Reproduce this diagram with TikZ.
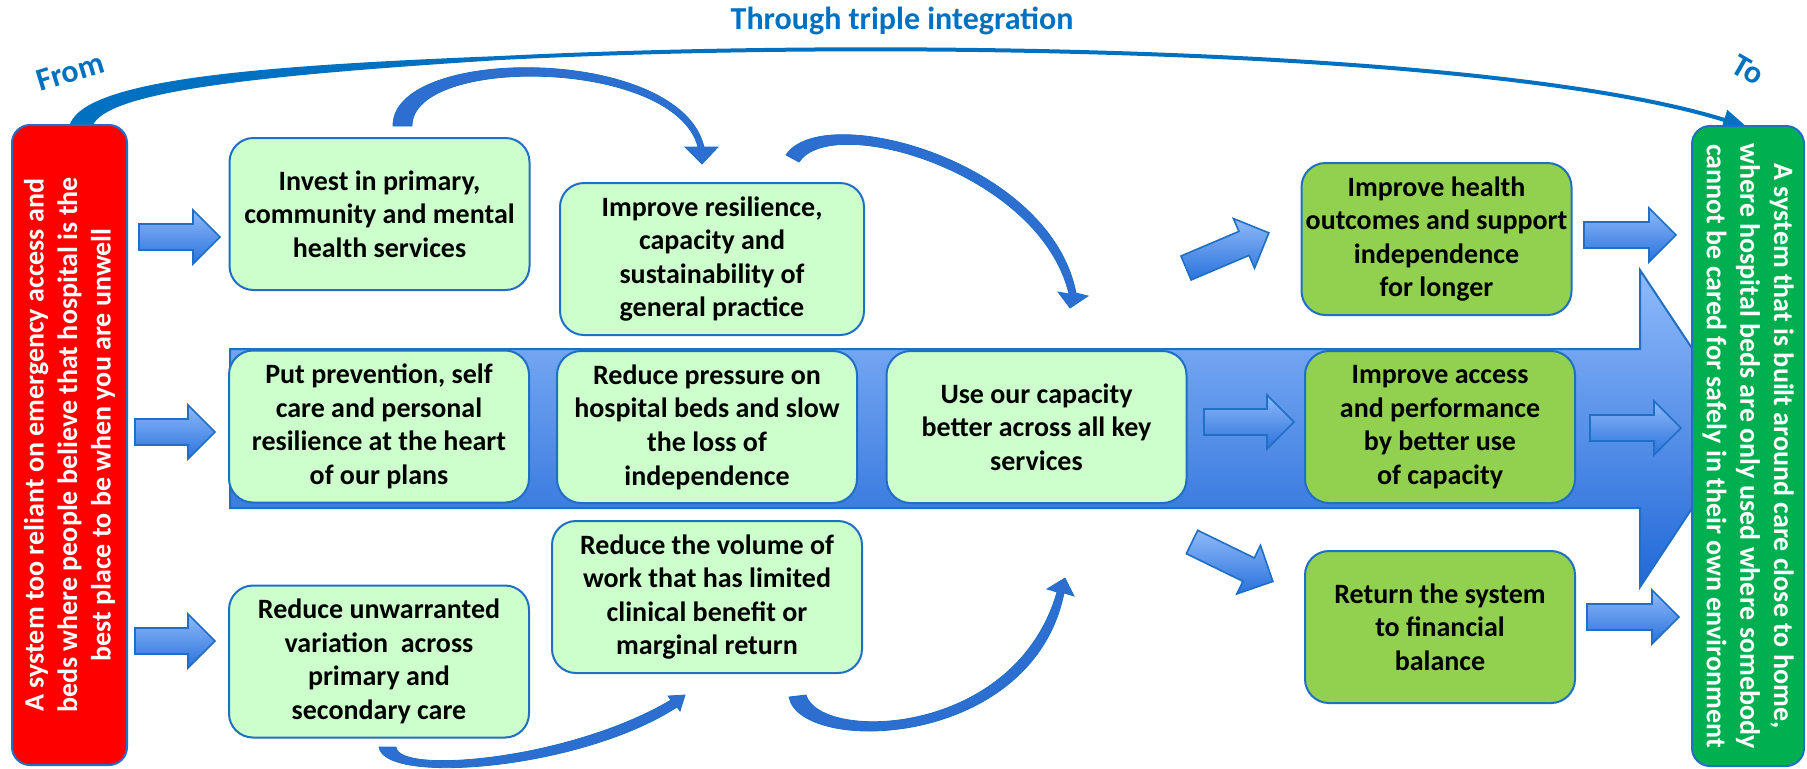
\documentclass[tikz,border=0pt]{standalone}
\usepackage{fontspec}
\setmainfont{Carlito}
\usetikzlibrary{arrows.meta}

\definecolor{edgeblue}{HTML}{1F6FC5}
\definecolor{boxgreen}{HTML}{CCFFCC}
\definecolor{goalgreen}{HTML}{92D050}
\definecolor{sidered}{HTML}{FF0000}
\definecolor{sidegreen}{HTML}{00B050}
\definecolor{headblue}{HTML}{0070C0}
\definecolor{bandtop}{HTML}{8FBAFA}
\definecolor{bandbot}{HTML}{2068D8}
\definecolor{arrtop}{HTML}{8EB9F9}
\definecolor{arrbot}{HTML}{2A72DC}
\definecolor{curveblue}{HTML}{2C6FD0}

\tikzset{
  box/.style={draw=edgeblue, line width=1pt, fill=boxgreen, rounded corners=12pt,
    inner sep=0pt, minimum width=150pt, minimum height=76pt, align=center,
    font=\bfseries\fontsize{14}{16.8}\selectfont},
  goal/.style={box, fill=goalgreen, minimum width=135pt},
  side/.style={draw=edgeblue, line width=1pt, rounded corners=9pt, inner sep=0pt,
    minimum width=320pt, text=white, align=center, font=\bfseries\fontsize{14}{16.8}\selectfont},
  tag/.style={text=headblue, font=\bfseries\fontsize{16}{19}\selectfont},
  curv/.style={fill=curveblue, draw=edgeblue, line width=0.4pt},
  pics/barrow/.style={code={
    \shade[top color=arrtop, bottom color=arrbot, draw=edgeblue, line width=0.8pt]
      (0,-13) -- (#1-27,-13) -- (#1-27,-27) -- (#1,0) -- (#1-27,27) -- (#1-27,13) -- (0,13) -- cycle;}}
}

\begin{document}
\begin{tikzpicture}[x=0.5pt, y=-0.5pt]
\useasboundingbox (0,0) rectangle (1807,768);

% big arrow behind the middle row
\shade[top color=bandtop, bottom color=bandbot, draw=edgeblue, line width=1pt]
  (230,349) -- (1640,349) -- (1640,270) -- (1745,428) -- (1640,587) -- (1640,508) -- (230,508) -- cycle;

% from -> to
\fill[headblue] (69,127) .. controls (80,80) and (250,66) .. (500,56) -- (500,60)
  .. controls (250,76) and (104,92) .. (92,127) -- cycle;
\draw[headblue, line width=2pt, -{Triangle[length=12pt,width=10pt]}]
  (500,58) .. controls (900,38) and (1500,50) .. (1747,127);

% curved arrows
\filldraw[curv] (393,126) .. controls (392,45) and (680,45) .. (704,147) -- (718,147) -- (702,164)
  -- (685,147) -- (698,147) .. controls (675,58) and (412,55) .. (412,126) -- cycle;
\filldraw[curv] (786,155) .. controls (822,100) and (1050,160) .. (1076,293) -- (1088,296) -- (1070,308)
  -- (1058,292) -- (1069,294) .. controls (1040,172) and (832,112) .. (799,162) -- cycle;
\filldraw[curv] (379,747) .. controls (384,785) and (580,770) .. (677,707) -- (680,711) -- (685,695)
  -- (668,696) -- (671,700) .. controls (570,760) and (398,775) .. (396,747) -- cycle;
\filldraw[curv] (789,697) .. controls (800,755) and (1032,750) .. (1064,593) -- (1074,596) -- (1065,578)
  -- (1047,589) -- (1057,592) .. controls (1015,738) and (820,742) .. (806,695) -- cycle;

\node[box] (invest) at (379.5,214) {Invest in primary,\\community and mental\\health services};
\node[box, minimum width=152pt] (resil) at (712,259) {Improve resilience,\\capacity and\\sustainability of\\general practice};
\node[box] (prev) at (379,426.5) {Put prevention, self\\care and personal\\resilience at the heart\\of our plans};
\node[box] (press) at (707,427) {Reduce pressure on\\hospital beds and slow\\the loss of\\independence};
\node[box] (use) at (1036.5,427) {Use our capacity\\better across all key\\services};
\node[box] (unwar) at (379,661.5) {Reduce unwarranted\\variation~ across\\primary and\\secondary care};
\node[box, minimum width=155pt] (volume) at (707,597) {Reduce the volume of\\work that has limited\\clinical benefit or\\marginal return};
\node[goal] (health) at (1436.5,239) {Improve health\\outcomes and support\\independence\\for longer};
\node[goal] (access) at (1440,427) {Improve access\\and performance\\by better use\\of capacity};
\node[goal] (balance) at (1440,627) {Return the system\\to financial\\balance};

\pic at (139,237) {barrow=81};
\pic at (135,432) {barrow=80};
\pic at (135,641) {barrow=80};
\pic at (1204,422) {barrow=90};
\pic[rotate=23] at (1186,268) {barrow=90};
\pic[rotate=-26] at (1192,542) {barrow=90};
\pic at (1584,235) {barrow=92};
\pic at (1590,428) {barrow=91};
\pic at (1587,617) {barrow=92};

\node[side, fill=sidered, rotate=90, minimum height=57.5pt] (now) at (69.5,445)
  {A system too reliant on emergency access and\\beds where people believe that hospital is the\\best place to be when you are unwell};
\node[side, fill=sidegreen, rotate=-90, minimum height=56pt] (future) at (1748,446)
  {A system that is built around care close to home,\\where hospital beds are only used where somebody\\cannot be cared for safely in their own environment};

\node[tag] (title) at (902,21) {Through triple integration};
\node[tag, rotate=17] (from) at (70,72) {From};
\node[tag, rotate=-30] (to) at (1748,70) {To};
\end{tikzpicture}
\end{document}
